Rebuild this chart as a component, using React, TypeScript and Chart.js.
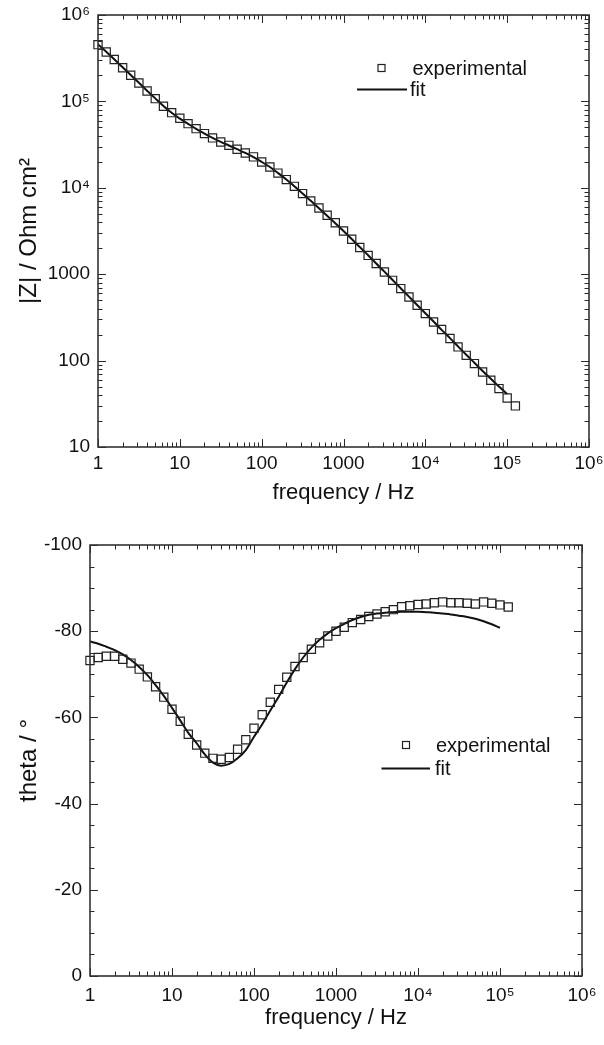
import React, { useEffect, useRef } from "react";
import { Chart, registerables } from "chart.js";

Chart.register(...registerables);

const FONT = "'Liberation Sans', Arial, Helvetica, sans-serif";

// frequency of each measured point (Hz)
const frequencies = [
  1, 1.26, 1.58, 2.0, 2.51, 3.16, 3.98, 5.01, 6.31, 7.94,
  10, 12.6, 15.8, 20.0, 25.1, 31.6, 39.8, 50.1, 63.1, 79.4,
  100, 126, 158, 200, 251, 316, 398, 501, 631, 794,
  1000, 1260, 1580, 2000, 2510, 3160, 3980, 5010, 6310, 7940,
  10000, 12600, 15800, 20000, 25100, 31600, 39800, 50100, 63100, 79400,
  100000, 126000,
];

// |Z| / Ohm cm^2
const impedanceExperimental = [
  454000, 373000, 305000, 245500, 200400, 163300, 132100, 107600, 87700, 74100,
  63800, 55300, 48400, 42400, 37800, 33900, 31000, 27900, 25300, 22800,
  19900, 17400, 14800, 12450, 10400, 8570, 7030, 5830, 4810, 3940,
  3160, 2540, 2040, 1650, 1330, 1060, 849, 681, 545, 437,
  350, 280, 229, 180, 144, 115, 92.3, 73.8, 59.2, 47.4,
  36.9, 29.9,
];

const impedanceFit = [
  457000, 376000, 307000, 248000, 202000, 164000, 133000, 108400, 88700, 73800,
  63100, 55000, 48200, 42500, 37800, 34000, 30900, 28000, 25300, 22600,
  19950, 17400, 14860, 12500, 10400, 8610, 7080, 5810, 4750, 3890,
  3160, 2550, 2060, 1660, 1330, 1070, 857, 687, 550, 440,
  353, 283, 227, 182, 146, 117, 94.4, 75.9, 61.7, 50.1,
  41.2,
];

// theta / degree
const phaseExperimental = [
  -73.2, -73.9, -74.2, -74.2, -73.5, -72.6, -71.2, -69.4, -67.1, -64.7,
  -61.9, -59.1, -56.1, -53.6, -51.7, -50.5, -50.3, -50.7, -52.6, -54.8,
  -57.5, -60.6, -63.5, -66.5, -69.3, -71.8, -73.9, -75.8, -77.3, -78.9,
  -80.0, -80.9, -82.0, -82.7, -83.4, -84.0, -84.5, -85.0, -85.7, -85.9,
  -86.2, -86.3, -86.6, -86.8, -86.6, -86.6, -86.5, -86.3, -86.8, -86.5,
  -86.1, -85.6,
];

const phaseFit = [
  -77.6, -77.1, -76.4, -75.6, -74.6, -73.3, -71.7, -69.8, -67.5, -65.0,
  -62.2, -59.3, -56.4, -54.0, -51.4, -49.5, -48.8, -49.2, -50.5, -52.4,
  -55.5, -58.4, -61.6, -64.8, -68.1, -71.2, -73.9, -76.2, -78.0, -79.5,
  -80.7, -81.7, -82.6, -83.3, -83.8, -84.1, -84.3, -84.4, -84.5, -84.5,
  -84.5, -84.4, -84.3, -84.1, -83.9, -83.6, -83.3, -82.9, -82.3, -81.6,
  -80.8,
];

const freqTickValues = [1, 10, 100, 1000, 10000, 100000, 1000000];
const freqTickLabels = ["1", "10", "100", "1000", "10⁴", "10⁵", "10⁶"];
const impedanceTickValues = [10, 100, 1000, 10000, 100000, 1000000];
const impedanceTickLabels = ["10", "100", "1000", "10⁴", "10⁵", "10⁶"];
const phaseTickValues = [-100, -80, -60, -40, -20, 0];
const phaseTickLabels = ["-100", "-80", "-60", "-40", "-20", "0"];
const phaseMinorStep = 5;

const seriesLabels = ["experimental", "fit"];

type LegendPos = {
  markerX: number;
  markerY: number;
  textX: number;
  lineX1: number;
  lineX2: number;
  lineY: number;
  fitTextX: number;
};

function logMinors(decades: number[]) {
  const out: number[] = [];
  for (let i = 0; i < decades.length - 1; i++) {
    for (let m = 2; m <= 9; m++) out.push(decades[i] * m);
  }
  return out;
}

function makeFramePlugin(yIsLog: boolean, legend: LegendPos) {
  return {
    id: "frameTicksLegend",
    afterDraw(chart: any) {
      const { ctx, chartArea: a, scales } = chart;
      const xs = scales.x;
      const ys = scales.y;
      ctx.save();
      ctx.strokeStyle = "#2a2a2a";
      ctx.lineWidth = 1;
      const seg = (x1: number, y1: number, x2: number, y2: number) => {
        ctx.beginPath();
        ctx.moveTo(x1, y1);
        ctx.lineTo(x2, y2);
        ctx.stroke();
      };
      const majorLen = 8;
      const minorLen = 4.5;
      // x ticks (bottom and top, pointing inward)
      const xTick = (v: number, len: number) => {
        const px = Math.round(xs.getPixelForValue(v)) + 0.5;
        seg(px, a.bottom, px, a.bottom - len);
        seg(px, a.top, px, a.top + len);
      };
      freqTickValues.forEach((v) => xTick(v, majorLen));
      logMinors(freqTickValues).forEach((v) => xTick(v, minorLen));
      // y ticks (left and right, pointing inward)
      const yTick = (v: number, len: number) => {
        const py = Math.round(ys.getPixelForValue(v)) + 0.5;
        seg(a.left, py, a.left + len, py);
        seg(a.right, py, a.right - len, py);
      };
      if (yIsLog) {
        impedanceTickValues.forEach((v) => yTick(v, majorLen));
        logMinors(impedanceTickValues).forEach((v) => yTick(v, minorLen));
      } else {
        phaseTickValues.forEach((v) => yTick(v, majorLen));
        const lo = phaseTickValues[0];
        const hi = phaseTickValues[phaseTickValues.length - 1];
        for (let v = lo; v <= hi; v += phaseMinorStep) {
          if (!phaseTickValues.includes(v)) yTick(v, minorLen);
        }
      }
      // frame
      ctx.lineWidth = 1.6;
      ctx.strokeStyle = "#333";
      ctx.strokeRect(a.left, a.top, a.right - a.left, a.bottom - a.top);

      // legend
      const ds = chart.data.datasets;
      ctx.font = `20px ${FONT}`;
      ctx.fillStyle = "#111";
      ctx.textBaseline = "middle";
      ctx.textAlign = "left";
      ctx.lineWidth = 1.2;
      ctx.strokeStyle = "#222";
      ctx.strokeRect(legend.markerX - 3.5, legend.markerY - 3.5, 7, 7);
      ctx.fillText(ds[0].label, legend.textX, legend.markerY + 1);
      ctx.lineWidth = 2;
      ctx.strokeStyle = "#111";
      seg(legend.lineX1, legend.lineY, legend.lineX2, legend.lineY);
      ctx.fillText(ds[1].label, legend.fitTextX, legend.lineY + 1);
      ctx.restore();
    },
  };
}

function tickFont() {
  return { family: FONT, size: 19 };
}

function titleFont() {
  return { family: FONT, size: 22 };
}

function xScale(height: number, labelPad: number, titlePadBottom: number) {
  return {
    type: "logarithmic",
    position: "bottom",
    min: 1,
    max: 1000000,
    grid: { display: false, drawTicks: false },
    border: { display: false },
    afterBuildTicks: (s: any) => {
      s.ticks = freqTickValues.map((value) => ({ value }));
    },
    afterFit: (s: any) => {
      s.height = height;
      s.paddingLeft = 0;
      s.paddingRight = 0;
    },
    ticks: {
      autoSkip: false,
      maxRotation: 0,
      minRotation: 0,
      padding: labelPad,
      color: "#111",
      font: tickFont(),
      callback: (_v: any, i: number) => freqTickLabels[i],
    },
    title: {
      display: true,
      text: "frequency / Hz",
      color: "#111",
      font: titleFont(),
      padding: { top: 0, bottom: titlePadBottom },
    },
  };
}

function yFit(width: number) {
  return (s: any) => {
    s.width = width;
    s.paddingTop = 0;
    s.paddingBottom = 0;
  };
}

function buildImpedanceConfig(): any {
  return {
    type: "scatter",
    data: {
      datasets: [
        {
          label: seriesLabels[0],
          data: frequencies.map((f, i) => ({ x: f, y: impedanceExperimental[i] })),
          showLine: false,
          pointStyle: "rect",
          pointRadius: 5.8,
          pointBorderWidth: 1.2,
          borderColor: "#222",
          backgroundColor: "rgba(0,0,0,0)",
          clip: false,
        },
        {
          label: seriesLabels[1],
          data: impedanceFit.map((z, i) => ({ x: frequencies[i], y: z })),
          showLine: true,
          pointRadius: 0,
          borderWidth: 2,
          borderColor: "#111",
          cubicInterpolationMode: "monotone",
        },
      ],
    },
    options: {
      responsive: false,
      animation: false,
      devicePixelRatio: 1,
      layout: { padding: { top: 15, right: 15, left: 0, bottom: 0 } },
      plugins: { legend: { display: false }, tooltip: { enabled: false } },
      scales: {
        x: xScale(63, 5, 4),
        y: {
          type: "logarithmic",
          position: "left",
          min: 10,
          max: 1000000,
          grid: { display: false, drawTicks: false },
          border: { display: false },
          afterBuildTicks: (s: any) => {
            s.ticks = impedanceTickValues.map((value) => ({ value }));
          },
          afterFit: yFit(98),
          ticks: {
            autoSkip: false,
            padding: 8,
            color: "#111",
            font: tickFont(),
            callback: (_v: any, i: number) => impedanceTickLabels[i],
          },
          title: {
            display: true,
            text: "|Z| / Ohm cm²",
            color: "#111",
            font: { family: FONT, size: 24 },
            padding: { top: 15, bottom: 0 },
          },
        },
      },
    },
    plugins: [
      makeFramePlugin(true, {
        markerX: 381.5,
        markerY: 68,
        textX: 412.5,
        lineX1: 357,
        lineX2: 407,
        lineY: 89.5,
        fitTextX: 410,
      }),
    ],
  };
}

function buildPhaseConfig(): any {
  return {
    type: "scatter",
    data: {
      datasets: [
        {
          label: seriesLabels[0],
          data: frequencies.map((f, i) => ({ x: f, y: phaseExperimental[i] })),
          showLine: false,
          pointStyle: "rect",
          pointRadius: 5.8,
          pointBorderWidth: 1.2,
          borderColor: "#222",
          backgroundColor: "rgba(0,0,0,0)",
          clip: false,
        },
        {
          label: seriesLabels[1],
          data: phaseFit.map((t, i) => ({ x: frequencies[i], y: t })),
          showLine: true,
          pointRadius: 0,
          borderWidth: 2,
          borderColor: "#111",
          cubicInterpolationMode: "monotone",
        },
      ],
    },
    options: {
      responsive: false,
      animation: false,
      devicePixelRatio: 1,
      layout: { padding: { top: 35, right: 22, left: 0, bottom: 0 } },
      plugins: { legend: { display: false }, tooltip: { enabled: false } },
      scales: {
        x: xScale(69, 8, 14),
        y: {
          type: "linear",
          position: "left",
          min: -100,
          max: 0,
          reverse: true,
          grid: { display: false, drawTicks: false },
          border: { display: false },
          afterBuildTicks: (s: any) => {
            s.ticks = phaseTickValues.map((value) => ({ value }));
          },
          afterFit: yFit(90),
          ticks: {
            autoSkip: false,
            padding: 8,
            color: "#111",
            font: tickFont(),
            callback: (_v: any, i: number) => phaseTickLabels[i],
          },
          title: {
            display: true,
            text: "theta / °",
            color: "#111",
            font: { family: FONT, size: 24 },
            padding: { top: 15, bottom: 0 },
          },
        },
      },
    },
    plugins: [
      makeFramePlugin(false, {
        markerX: 406,
        markerY: 235,
        textX: 436,
        lineX1: 381.5,
        lineX2: 430,
        lineY: 258.5,
        fitTextX: 435,
      }),
    ],
  };
}

function ChartCanvas({ build, top, height }: { build: () => any; top: number; height: number }) {
  const ref = useRef<HTMLCanvasElement | null>(null);
  useEffect(() => {
    if (!ref.current) return;
    const chart = new Chart(ref.current, build());
    return () => chart.destroy();
  }, [build]);
  return (
    <canvas
      ref={ref}
      width={604}
      height={height}
      style={{ position: "absolute", left: 0, top, width: 604, height, display: "block" }}
    />
  );
}

export default function App() {
  return (
    <div style={{ position: "absolute", left: 0, top: 0, width: 604, height: 1045, background: "#fff" }}>
      <ChartCanvas build={buildImpedanceConfig} top={0} height={510} />
      <ChartCanvas build={buildPhaseConfig} top={510} height={535} />
    </div>
  );
}
